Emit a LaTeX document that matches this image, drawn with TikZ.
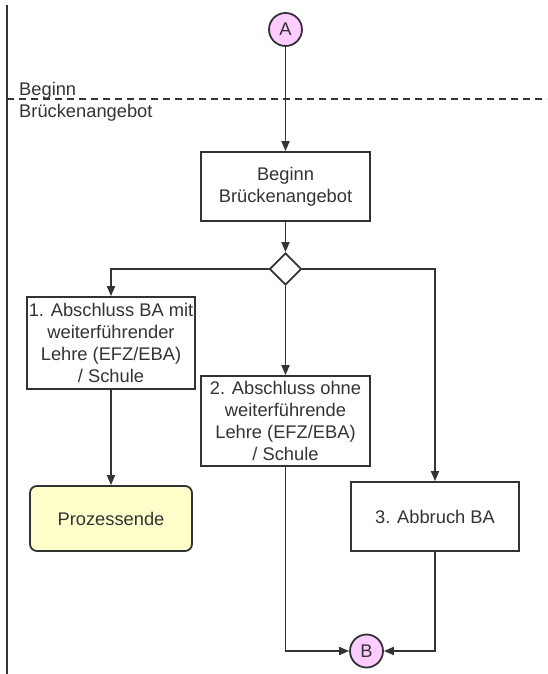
\documentclass[tikz,border=0pt]{standalone}
\usepackage{fontspec}
\setmainfont{Liberation Sans}
\usetikzlibrary{shapes.geometric,arrows.meta}
\definecolor{ln}{HTML}{333333}
\definecolor{pinkc}{HTML}{FFCCFF}
\definecolor{yelc}{HTML}{FFFFCC}
\begin{document}
\begin{tikzpicture}[x=1pt,y=-1pt,
  every node/.style={font=\fontsize{18.3}{21.7}\selectfont, text=ln},
  box/.style={draw=ln, line width=1.8pt, fill=white, align=center, inner sep=1pt},
  conn/.style={circle, draw=ln, line width=1.8pt, fill=pinkc, minimum size=33pt, inner sep=0pt},
  dec/.style={diamond, draw=ln, line width=1.8pt, fill=white, minimum width=32pt, minimum height=32pt, inner sep=0pt},
  flow/.style={draw=ln, line width=1.8pt, -{Triangle[length=10pt,width=8pt]}},
  plain/.style={draw=ln, line width=1.8pt}]
\useasboundingbox (0,0) rectangle (547,674);
% swimlane frame
\coordinate (vtop) at (7,5);
\coordinate (vbot) at (7,674);
\draw[plain] (vtop) -- (vbot);
\coordinate (dl) at (7,99);
\coordinate (dr) at (547,99);
\draw[draw=ln, line width=1.4pt, dash pattern=on 7pt off 5pt] (dl) -- (dr);
\node[anchor=west, align=left, inner sep=0pt] (lane) at (19,101.5) {Beginn\\Brückenangebot};
% nodes
\node[conn] (A) at (285.5,29.5) {A};
\node[box, minimum width=169pt, minimum height=69pt] (start) at (285.5,186.5) {Beginn\\Brückenangebot};
\node[dec] (dia) at (285.5,269) {};
\node[box, minimum width=168pt, minimum height=92pt] (b1) at (111,343) {1. Abschluss BA mit\\weiterführender\\Lehre (EFZ/EBA)\\/ Schule};
\node[box, minimum width=169pt, minimum height=90pt] (b2) at (285.5,421) {2. Abschluss ohne\\weiterführende\\Lehre (EFZ/EBA)\\/ Schule};
\node[box, minimum width=168pt, minimum height=69pt] (b3) at (435,516.5) {3. Abbruch BA};
\node[box, fill=yelc, rounded corners=7pt, minimum width=162pt, minimum height=65pt] (pend) at (111,518.5) {Prozessende};
\node[conn] (B) at (366.5,651) {B};
% connectors
\draw[flow] (A) -- (start);
\draw[flow] (start) -- (dia);
\draw[flow] (dia.west) -| (b1.north);
\draw[flow] (dia.east) -| (b3.north);
\draw[flow] (dia.south) -- (b2.north);
\draw[flow] (b1) -- (pend);
\draw[flow] (b2.south) |- (B.west);
\draw[flow] (b3.south) |- (B.east);
\end{tikzpicture}
\end{document}
